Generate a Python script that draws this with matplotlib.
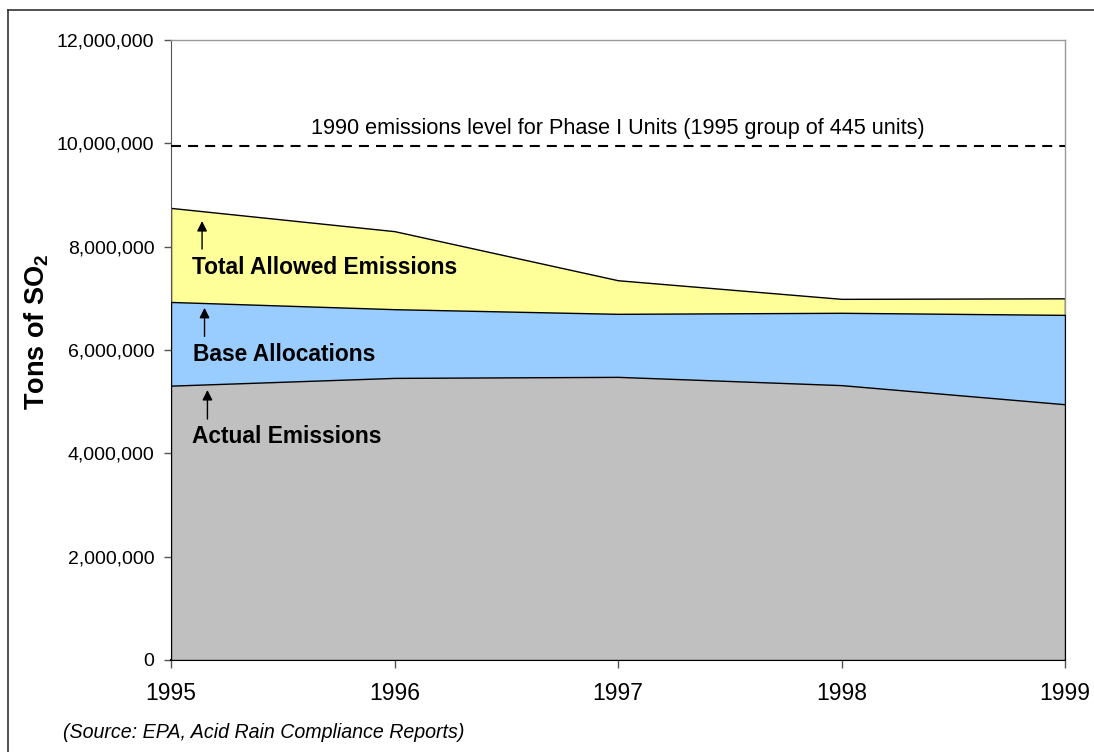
import numpy as np
import matplotlib.pyplot as plt
from matplotlib.lines import Line2D
from matplotlib.ticker import FuncFormatter

plt.rcParams['font.family'] = ['Liberation Sans', 'DejaVu Sans']

anos = [1995, 1996, 1997, 1998, 1999]
total_permitido = [8750000, 8300000, 7350000, 6990000, 7000000]
alocacao_base = [6930000, 6790000, 6700000, 6720000, 6680000]
emissoes_reais = [5310000, 5460000, 5480000, 5320000, 4950000]
nivel_1990 = 9950000

fig = plt.figure(figsize=(10.94, 7.52), dpi=100)
ax = fig.add_axes([171/1094, 92/752, 894/1094, 620/752])

ax.fill_between(anos, 0, total_permitido, facecolor='#FFFF99', edgecolor='black', lw=1, zorder=2)
ax.fill_between(anos, 0, alocacao_base, facecolor='#99CCFF', edgecolor='black', lw=1, zorder=3)
ax.fill_between(anos, 0, emissoes_reais, facecolor='#C0C0C0', edgecolor='black', lw=1, zorder=4)

ax.plot([anos[0], anos[-1]], [nivel_1990, nivel_1990], color='black', lw=1.5,
        dashes=(4.8, 3.4), zorder=5)
ax.text(np.mean(anos), nivel_1990 + 340000,
        '1990 emissions level for Phase I Units (1995 group of 445 units)',
        ha='center', va='center', fontsize=15.6)

# setas e rotulos
rotulos = [
    ('Total Allowed Emissions', 1995.094, 7590000, 1995.139, 7900000, 8550000),
    ('Base Allocations', 1995.098, 5920000, 1995.150, 6210000, 6870000),
    ('Actual Emissions', 1995.094, 4320000, 1995.163, 4610000, 5280000),
]
for txt, tx, ty, ax_x, y0, y1 in rotulos:
    ax.text(tx, ty, txt, ha='left', va='center', fontsize=16.4, fontweight='bold', zorder=6)
    ax.annotate('', xy=(ax_x, y1), xytext=(ax_x, y0),
                arrowprops=dict(arrowstyle='-|>', color='black', lw=1, mutation_scale=15),
                zorder=6)

ax.set_xlim(1995, 1999)
ax.set_ylim(0, 12000000)
ax.set_xticks(anos)
ax.set_yticks(np.arange(0, 12000001, 2000000))
ax.yaxis.set_major_formatter(FuncFormatter(lambda v, p: f'{int(v):,}'))
ax.tick_params(axis='y', direction='out', length=5, width=1, color='#555555', labelsize=14, pad=7)
ax.tick_params(axis='x', direction='out', length=6, width=1, color='#555555', labelsize=16.5, pad=10)

for lado in ['top', 'right']:
    ax.spines[lado].set_color('#999999')
    ax.spines[lado].set_linewidth(1)
ax.spines['left'].set_color('#555555')
ax.spines['bottom'].set_color('black')
ax.spines['bottom'].set_linewidth(1.5)
ax.set_facecolor('white')

ax.set_ylabel('Tons of SO$_\\mathregular{2}$', fontsize=19.5, fontweight='bold')
ax.yaxis.set_label_coords(-0.134, 0.529)

fig.text(63/1094, 1 - 732/752, '(Source: EPA, Acid Rain Compliance Reports)',
         fontsize=14.1, style='italic', ha='left', va='center')

# moldura da figura
fig.add_artist(Line2D([8/1094, 8/1094], [0, 1 - 10/752], color='#333333', lw=1.2,
                      transform=fig.transFigure))
fig.add_artist(Line2D([8/1094, 1], [1 - 10/752, 1 - 10/752], color='#333333', lw=1.2,
                      transform=fig.transFigure))

plt.savefig('out.png', dpi=100)
